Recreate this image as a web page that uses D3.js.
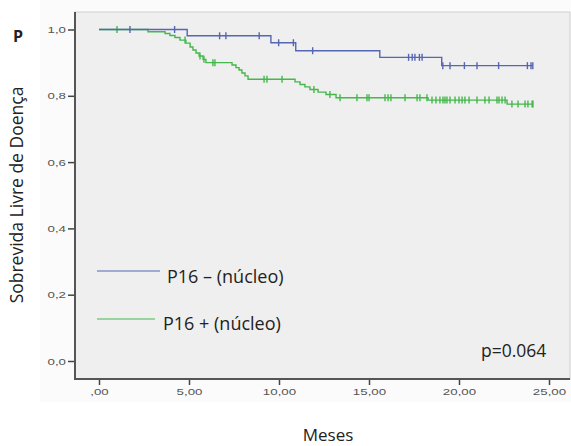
<!DOCTYPE html>
<html>
<head>
<meta charset="utf-8">
<script src="https://cdn.jsdelivr.net/npm/d3@7"></script>
<style>
  body { margin: 0; background: #fff; }
  svg { display: block; }
</style>
</head>
<body>
<div id="chart"></div>
<script>
// Kaplan-Meier steps (months, survival)
const negTimes = [4.9, 9.55, 10.93, 15.6, 19.04];
const negSurv  = [0.981, 0.960, 0.936, 0.916, 0.891];
const negEnd = 24.1;
const negCensor = [1.72, 4.2, 6.7, 7.05, 8.9, 9.98, 10.8, 11.87, 17.2, 17.4, 17.55, 17.8, 17.95,
                   19.1, 19.5, 20.3, 21.0, 22.2, 23.8, 24.0, 24.1];

const posTimes = [2.72, 3.67, 3.94, 4.22, 4.5, 4.83, 5.06, 5.22, 5.39, 5.56, 5.78, 5.94,
                  7.39, 7.61, 7.78, 7.94, 8.11, 8.28, 10.89, 11.17, 11.44, 11.72, 12.17, 12.61,
                  13.17, 18.28, 22.67];
const posSurv  = [0.993, 0.988, 0.982, 0.976, 0.968, 0.959, 0.947, 0.938, 0.929, 0.920, 0.910, 0.900,
                  0.893, 0.885, 0.878, 0.869, 0.860, 0.850, 0.842, 0.834, 0.827, 0.819, 0.811, 0.804,
                  0.794, 0.787, 0.775];
const posEnd = 24.11;
const posCensor = [1.0, 4.78, 5.61, 5.83, 6.33, 6.44, 9.17, 9.33, 10.17, 11.94, 12.83, 13.39, 14.33,
                   14.89, 15.0, 15.89, 16.06, 16.22, 17.0, 17.67, 17.83, 18.22, 18.5, 18.72, 18.94,
                   19.11, 19.22, 19.33, 19.5, 19.78, 20.0, 20.17, 20.33, 20.56, 21.0, 21.44, 21.67,
                   22.11, 22.22, 22.39, 22.56, 22.94, 23.28, 23.67, 23.83, 24.06, 24.11];

const xTicks = [0, 5, 10, 15, 20, 25];
const yTicks = [0, 0.2, 0.4, 0.6, 0.8, 1.0];

const blue = "#5566b2", green = "#45b84c";

const svg = d3.select("#chart").append("svg")
    .attr("width", 571)
    .attr("height", 446);

// plot frame
const plot = { left: 75, right: 570, top: 12, bottom: 379 };

const x = d3.scaleLinear().domain([0, 25]).range([99, 549]);
const y = d3.scaleLinear().domain([0, 1]).range([361, 29.5]);

// faint outer chart area
svg.append("rect")
    .attr("x", 40).attr("y", 0).attr("width", 531).attr("height", 402)
    .attr("fill", "#fbfbfb");

svg.append("rect")
    .attr("x", plot.left).attr("y", plot.top)
    .attr("width", plot.right - plot.left).attr("height", plot.bottom - plot.top)
    .attr("fill", "#efefef")
    .attr("stroke", "#cfcfcf").attr("stroke-width", 1);

// axes (tick labels are stretched sideways in the original)
const stretch = 1.4;
const yAxis = d3.axisLeft(y).tickValues(yTicks).tickSize(7).tickPadding(2)
    .tickFormat(d => d3.format(".1f")(d).replace(".", ","));
const xAxis = d3.axisBottom(x).tickValues(xTicks).tickSize(6).tickPadding(3)
    .tickFormat(d => d === 0 ? ",00" : d3.format(".2f")(d).replace(".", ","));

const gy = svg.append("g").attr("transform", `translate(${plot.left},0)`).call(yAxis);
const gx = svg.append("g").attr("transform", `translate(0,${plot.bottom})`).call(xAxis);
[gy, gx].forEach(g => {
  g.select(".domain").remove();
  g.selectAll("line").attr("stroke", "#444").attr("stroke-width", 1.5);
  g.selectAll("text").attr("fill", "#555")
    .style("font-family", "'Liberation Sans', Arial, sans-serif").style("font-size", "9.5px")
    .attr("transform", `scale(${stretch},1)`);
});
gy.selectAll("text").attr("x", -9 / stretch);

svg.append("line")
    .attr("x1", plot.left).attr("x2", plot.left)
    .attr("y1", plot.top).attr("y2", plot.bottom + 1)
    .attr("stroke", "#555").attr("stroke-width", 2);
svg.append("line")
    .attr("x1", plot.left - 1).attr("x2", plot.right)
    .attr("y1", plot.bottom).attr("y2", plot.bottom)
    .attr("stroke", "#555").attr("stroke-width", 2);

// curves
function steps(times, surv, end) {
  const pts = [{ t: 0, s: 1 }];
  times.forEach((t, i) => pts.push({ t: t, s: surv[i] }));
  pts.push({ t: end, s: surv[surv.length - 1] });
  return pts;
}
function survAt(times, surv, t) {
  let s = 1;
  times.forEach((tt, i) => { if (tt <= t) s = surv[i]; });
  return s;
}

const line = d3.line().x(d => x(d.t)).y(d => y(d.s)).curve(d3.curveStepAfter);

function drawGroup(times, surv, end, censor, color) {
  svg.append("path")
      .datum(steps(times, surv, end))
      .attr("d", line)
      .attr("fill", "none")
      .attr("stroke", color)
      .attr("stroke-width", 1.4);
  svg.append("g").selectAll("line")
      .data(censor)
      .join("line")
      .attr("x1", d => x(d)).attr("x2", d => x(d))
      .attr("y1", d => y(survAt(times, surv, d)) - 3.5)
      .attr("y2", d => y(survAt(times, surv, d)) + 3.5)
      .attr("stroke", color)
      .attr("stroke-width", 1.4);
}

drawGroup(posTimes, posSurv, posEnd, posCensor, green);
drawGroup(negTimes, negSurv, negEnd, negCensor, blue);

// legend
const font = "'Open Sans', 'Noto Sans', sans-serif";
svg.append("line").attr("x1", 97).attr("x2", 160).attr("y1", 271).attr("y2", 271)
    .attr("stroke", blue).attr("stroke-width", 1.2);
svg.append("line").attr("x1", 97).attr("x2", 155).attr("y1", 319).attr("y2", 319)
    .attr("stroke", green).attr("stroke-width", 1.2);

function label(tx, ty, str, size, opts = {}) {
  const t = svg.append("text")
      .attr("x", tx).attr("y", ty)
      .attr("fill", "#222")
      .style("font-family", font)
      .style("font-size", size + "px")
      .text(str);
  if (opts.anchor) t.attr("text-anchor", opts.anchor);
  if (opts.rotate) t.attr("transform", `rotate(-90,${tx},${ty})`);
  if (opts.bold) t.style("font-weight", "bold");
  return t;
}

label(167, 283, "P16 \u2013 (núcleo)", 18);
label(163, 330, "P16 + (núcleo)", 18);
label(481, 357, "p=0.064", 17.5);
label(13, 42, "P", 16, { bold: true });
label(23, 195, "Sobrevida Livre de Doença", 17.5, { anchor: "middle", rotate: true });
label(328, 441, "Meses", 17, { anchor: "middle" });
</script>
</body>
</html>
